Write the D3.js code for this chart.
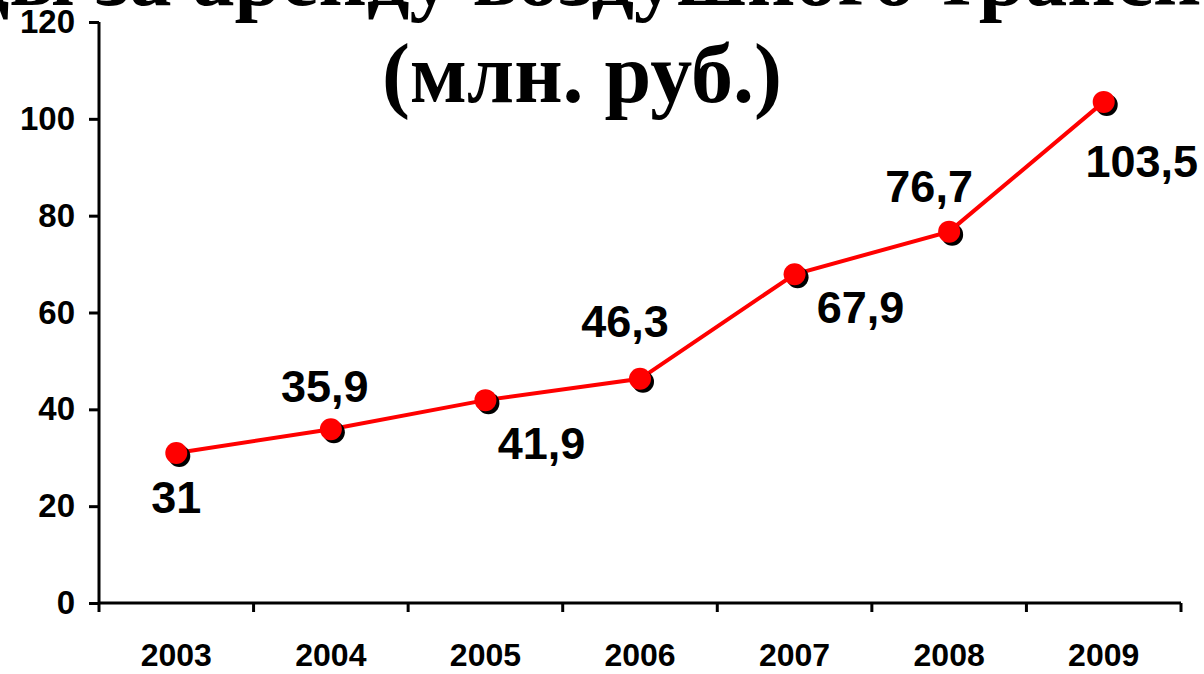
<!DOCTYPE html>
<html lang="ru">
<head>
<meta charset="utf-8">
<script src="https://d3js.org/d3.v7.min.js"></script>
<title>Доходы за аренду воздушного транспорта</title>
<style>
	body { margin:0; background:#fff; }
	svg { display:block; }
	.title { font-family:"Liberation Serif","Times New Roman",serif; font-weight:bold; font-size:84px; fill:#000; }
	.axis text { font-family:"Liberation Sans",Arial,sans-serif; font-weight:bold; fill:#000; }
	.axis path, .axis line { stroke:#000; stroke-width:3px; }
	.lbl { font-family:"Liberation Sans",Arial,sans-serif; font-weight:bold; font-size:45px; fill:#000; }
</style>
</head>
<body>
<script>
// data
var years  = ["2003","2004","2005","2006","2007","2008","2009"];
var values = [31, 35.9, 41.9, 46.3, 67.9, 76.7, 103.5];
var labels = ["31","35,9","41,9","46,3","67,9","76,7","103,5"];
var yTicks = [0, 20, 40, 60, 80, 100, 120];
var titleLines = ["Доходы за аренду воздушного транспорта", "(млн. руб.)"];

// label offsets from the point (dx = centre, dy = baseline)
var labelOffset = [[0,60],[-6,-27],[56,59],[-15,-42],[66,49],[-20,-30],[38,75]];

var width = 1204, height = 674;
var margin = {left:99, right:23, top:22, bottom:71};

var svg = d3.select("body").append("svg")
	.attr("width", width)
	.attr("height", height);

var x = d3.scaleBand().domain(years).range([margin.left, width - margin.right]);
var y = d3.scaleLinear().domain([0,120]).range([height - margin.bottom, margin.top]);

// axes
var gx = svg.append("g").attr("class","axis")
	.attr("transform","translate(0,"+(height - margin.bottom)+")")
	.call(d3.axisBottom(x).tickSize(0).tickPadding(40));
gx.selectAll("text").style("font-size","32px");
// tick marks between categories
gx.selectAll(".sep").data(d3.range(years.length + 1)).enter().append("line")
	.attr("x1", function(i){ return margin.left + i * x.step(); })
	.attr("x2", function(i){ return margin.left + i * x.step(); })
	.attr("y1", 0).attr("y2", 9);
gx.select(".domain").attr("d","M"+margin.left+",0H"+(width - margin.right));

var gy = svg.append("g").attr("class","axis")
	.attr("transform","translate("+margin.left+",0)")
	.call(d3.axisLeft(y).tickValues(yTicks).tickSize(10).tickPadding(14));
gy.selectAll("text").style("font-size","33px");
gy.select(".domain").attr("d","M0,"+y(120)+"V"+y(0));

var cx = function(d,i){ return x(years[i]) + x.bandwidth()/2; };

// line
var line = d3.line()
	.x(function(d,i){ return cx(d,i); })
	.y(function(d){ return y(d); });

svg.append("path").datum(values)
	.attr("d", line)
	.attr("fill","none")
	.attr("stroke","#ff0000")
	.attr("stroke-width",4);

// markers with shadow
svg.selectAll(".shadow").data(values).enter().append("circle")
	.attr("cx", function(d,i){ return cx(d,i) + 3; })
	.attr("cy", function(d){ return y(d) + 3; })
	.attr("r", 11)
	.attr("fill","#000");
svg.selectAll(".dot").data(values).enter().append("circle")
	.attr("cx", cx)
	.attr("cy", function(d){ return y(d); })
	.attr("r", 11)
	.attr("fill","#ff0000");

// value labels
svg.selectAll(".lbl").data(values).enter().append("text")
	.attr("class","lbl")
	.attr("text-anchor","middle")
	.attr("x", function(d,i){ return cx(d,i) + labelOffset[i][0]; })
	.attr("y", function(d,i){ return y(d) + labelOffset[i][1]; })
	.text(function(d,i){ return labels[i]; });

// title (drawn last, overlapping the plot like the original)
svg.append("text").attr("class","title")
	.attr("text-anchor","middle")
	.attr("x", 582).attr("y", 5)
	.text(titleLines[0]);
svg.append("text").attr("class","title")
	.attr("text-anchor","middle")
	.attr("x", 582).attr("y", 102)
	.text(titleLines[1]);
</script>
</body>
</html>
